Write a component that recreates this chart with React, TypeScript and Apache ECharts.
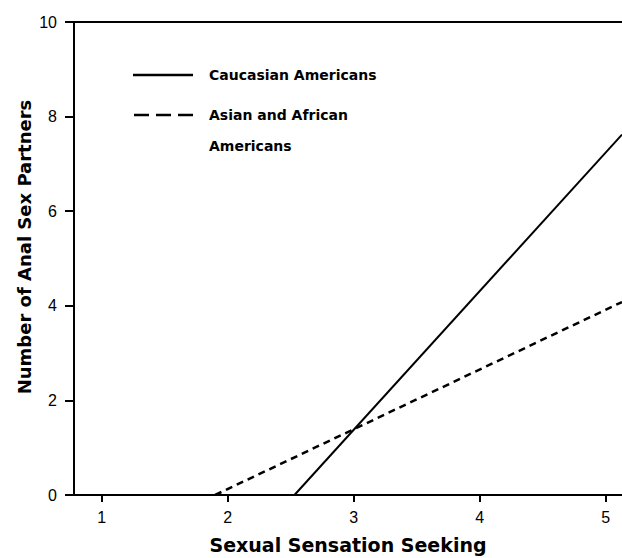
import React, { useEffect, useRef } from "react";
import * as echarts from "echarts";

// Fitted regression lines: endpoints on the visible x range
const caucasianX = [2.53, 5.13];
const caucasianY = [0, 7.62];
const asianAfricanX = [1.9, 5.13];
const asianAfricanY = [0, 4.08];

const xTicks = [1, 2, 3, 4, 5];
const xRange = [0.78, 5.13];
const yRange = [0, 10];
const yStep = 2;

const seriesNames = ["Caucasian Americans", "Asian and African Americans"];

const pairs = (xs: number[], ys: number[]) => xs.map((x, i) => [x, ys[i]]);

export default function App() {
  const ref = useRef<HTMLDivElement>(null);

  useEffect(() => {
    if (!ref.current) return;
    const chart = echarts.init(ref.current, undefined, { renderer: "svg" });
    const axisLine = { show: true, lineStyle: { color: "#000", width: 2 } };
    const labelFont = { color: "#000", fontSize: 16, fontFamily: "Liberation Sans" };
    const titleFont = {
      color: "#000",
      fontSize: 19,
      fontWeight: "bold" as const,
      fontFamily: "DejaVu Sans",
    };
    const legendFont = {
      fill: "#000",
      fontSize: 14,
      fontWeight: "bold" as const,
      fontFamily: "DejaVu Sans",
    };

    chart.setOption({
      animation: false,
      backgroundColor: "#fff",
      grid: { left: 74, right: 0, top: 22, bottom: 63, outerBoundsMode: "none" },
      xAxis: [
        {
          type: "value",
          min: xRange[0],
          max: xRange[1],
          name: "Sexual Sensation Seeking",
          nameLocation: "middle",
          nameGap: 40,
          nameTextStyle: titleFont,
          axisLine,
          axisTick: {
            show: true,
            length: 7,
            lineStyle: { color: "#000", width: 2 },
            customValues: xTicks,
          },
          axisLabel: { ...labelFont, margin: 14, customValues: xTicks },
          splitLine: { show: false },
        },
        {
          type: "value",
          position: "top",
          min: xRange[0],
          max: xRange[1],
          axisLine,
          axisTick: { show: false },
          axisLabel: { show: false },
          splitLine: { show: false },
        },
      ],
      yAxis: {
        type: "value",
        min: yRange[0],
        max: yRange[1],
        interval: yStep,
        axisLine,
        axisTick: { show: true, length: 9, lineStyle: { color: "#000", width: 2 } },
        axisLabel: { ...labelFont, margin: 17 },
        splitLine: { show: false },
      },
      graphic: [
        {
          type: "text",
          x: 24,
          y: 247,
          rotation: Math.PI / 2,
          style: {
            ...legendFont,
            fontSize: 18,
            text: "Number of Anal Sex Partners",
            align: "center",
            verticalAlign: "middle",
          },
        },
        {
          type: "line",
          shape: { x1: 133, y1: 75, x2: 193, y2: 75 },
          style: { stroke: "#000", lineWidth: 2.5 },
        },
        {
          type: "text",
          x: 209,
          y: 75,
          style: { ...legendFont, text: seriesNames[0], verticalAlign: "middle" },
        },
        {
          type: "line",
          shape: { x1: 134, y1: 115, x2: 193, y2: 115 },
          style: { stroke: "#000", lineWidth: 2.5, lineDash: [15, 7] },
        },
        {
          type: "text",
          x: 209,
          y: 115,
          style: { ...legendFont, text: "Asian and African", verticalAlign: "middle" },
        },
        {
          type: "text",
          x: 209,
          y: 146,
          style: { ...legendFont, text: "Americans", verticalAlign: "middle" },
        },
      ],
      series: [
        {
          name: seriesNames[0],
          type: "line",
          data: pairs(caucasianX, caucasianY),
          showSymbol: false,
          lineStyle: { color: "#000", width: 2 },
          clip: true,
        },
        {
          name: seriesNames[1],
          type: "line",
          data: pairs(asianAfricanX, asianAfricanY),
          showSymbol: false,
          lineStyle: { color: "#000", width: 2.5, type: [7, 5] },
          clip: true,
        },
      ],
    });
    return () => chart.dispose();
  }, []);

  return <div ref={ref} style={{ width: 622, height: 558, position: "absolute", left: 0, top: 0 }} />;
}
